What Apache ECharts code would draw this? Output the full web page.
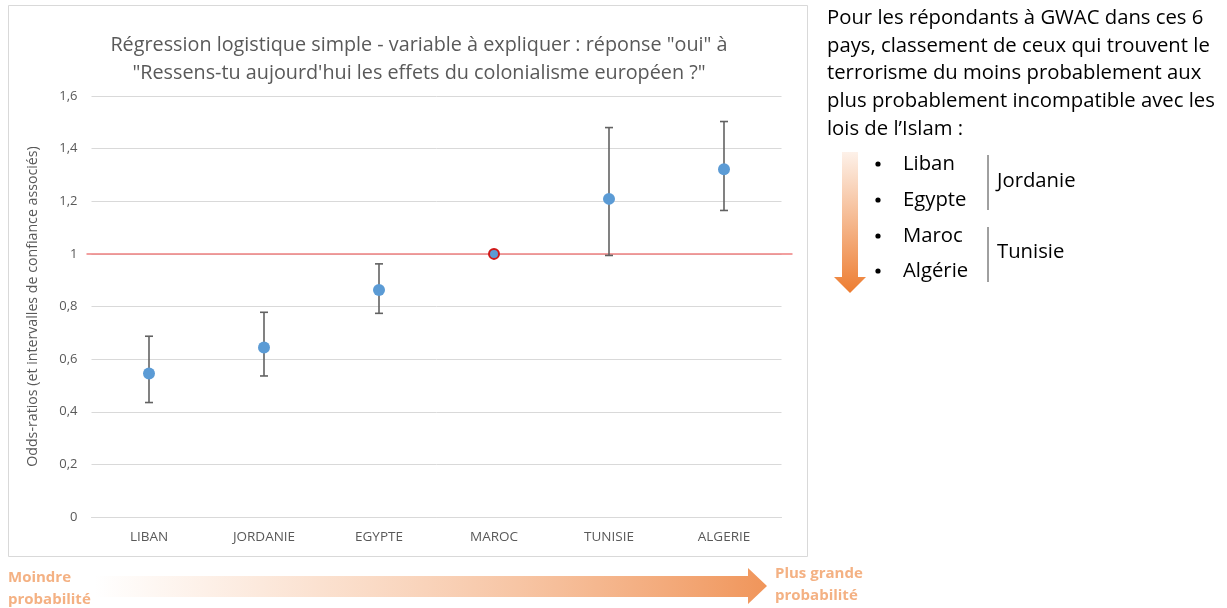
<!DOCTYPE html>
<html>
<head>
<meta charset="utf-8">
<script src="https://cdn.jsdelivr.net/npm/echarts@6/dist/echarts.min.js"></script>
<style>
html,body{margin:0;padding:0;background:#fff;}
#c{width:1227px;height:608px;}
</style>
</head>
<body>
<div id="c"></div>
<script>
var categories = ['LIBAN', 'JORDANIE', 'EGYPTE', 'MAROC', 'TUNISIE', 'ALGERIE'];
var oddsRatios = [0.545, 0.644, 0.863, 1.0, 1.209, 1.322];
var ciLow = [0.435, 0.536, 0.774, 1.0, 0.994, 1.165];
var ciHigh = [0.687, 0.778, 0.962, 1.0, 1.480, 1.503];
var referenceValue = 1;
var referenceCategory = 'MAROC';
var yTickValues = [0, 0.2, 0.4, 0.6, 0.8, 1, 1.2, 1.4, 1.6];

var titleText = 'Régression logistique simple - variable à expliquer : réponse "oui" à\n"Ressens-tu aujourd\'hui les effets du colonialisme européen ?"';
var yAxisName = 'Odds-ratios (et intervalles de confiance associés)';
var sideText = ['Pour les répondants à GWAC dans ces 6', 'pays, classement de ceux qui trouvent le', 'terrorisme du moins probablement aux', 'plus probablement incompatible avec les', 'lois de l\u2019Islam :'];
var rankList = ['Liban', 'Egypte', 'Maroc', 'Algérie'];
var groupLabels = ['Jordanie', 'Tunisie'];
var lowLabel = 'Moindre\nprobabilité';
var highLabel = 'Plus grande\nprobabilité';

var FONT = '"Open Sans", "Noto Sans", sans-serif';
var GRAY = '#595959';
var SIDE_FONT = '20.3px ' + FONT;

var chart = echarts.init(document.getElementById('c'), null, {renderer: 'canvas'});

var pointData = categories.map(function (c, i) {
  var item = {value: [i, oddsRatios[i]]};
  if (c === referenceCategory) {
    item.symbolSize = 10;
    item.itemStyle = {color: '#5B9BD5', borderColor: '#D01818', borderWidth: 2};
  }
  return item;
});
var errData = categories.map(function (c, i) { return [i, ciLow[i], ciHigh[i]]; });

var graphics = [];
graphics.push({type: 'rect', shape: {x: 8.5, y: 5.5, width: 799, height: 551}, style: {fill: 'none', stroke: '#d9d9d9', lineWidth: 1}, z: -10, silent: true});
sideText.forEach(function (t, i) {
  graphics.push({type: 'text', x: 827, y: 18 + i * 27.8, style: {text: t, font: SIDE_FONT, fill: '#000', verticalAlign: 'middle'}});
});
var listY = [164, 200, 236, 271];
rankList.forEach(function (t, i) {
  graphics.push({type: 'circle', shape: {cx: 878, cy: listY[i], r: 2.6}, style: {fill: '#000'}});
  graphics.push({type: 'text', x: 903, y: listY[i], style: {text: t, font: SIDE_FONT, fill: '#000', verticalAlign: 'middle'}});
});
graphics.push({type: 'line', shape: {x1: 988, y1: 155, x2: 988, y2: 210}, style: {stroke: '#404040', lineWidth: 1}});
graphics.push({type: 'line', shape: {x1: 988, y1: 227, x2: 988, y2: 282}, style: {stroke: '#404040', lineWidth: 1}});
graphics.push({type: 'text', x: 997, y: 181, style: {text: groupLabels[0], font: SIDE_FONT, fill: '#000', verticalAlign: 'middle'}});
graphics.push({type: 'text', x: 997, y: 252, style: {text: groupLabels[1], font: SIDE_FONT, fill: '#000', verticalAlign: 'middle'}});
graphics.push({type: 'polygon', shape: {points: [[842, 152], [858, 152], [858, 277], [866, 277], [850, 293], [834, 277], [842, 277]]},
  style: {fill: new echarts.graphic.LinearGradient(0, 0, 0, 1, [{offset: 0, color: '#FDF1E9'}, {offset: 1, color: '#ED7D31'}])}});
graphics.push({type: 'polygon', shape: {points: [[95, 576], [748, 576], [748, 568], [767, 586], [748, 604], [748, 597], [95, 597]]},
  style: {fill: new echarts.graphic.LinearGradient(0, 0, 1, 0, [{offset: 0, color: 'rgba(248,203,173,0)'}, {offset: 0.35, color: 'rgba(248,203,173,0.6)'}, {offset: 1, color: '#F0955A'}])}});
graphics.push({type: 'text', x: 8, y: 589, style: {text: lowLabel, font: 'bold 15px ' + FONT, fill: '#F4B183', verticalAlign: 'middle', lineHeight: 22}});
graphics.push({type: 'text', x: 775, y: 585, style: {text: highLabel, font: 'bold 15px ' + FONT, fill: '#F4B183', verticalAlign: 'middle', lineHeight: 22}});

var option = {
  backgroundColor: '#fff',
  animation: false,
  title: {
    text: titleText, left: 414, top: 26, textAlign: 'center',
    textStyle: {fontFamily: FONT, fontSize: 19.8, fontWeight: 'normal', color: GRAY, lineHeight: 28}
  },
  grid: {left: 91.5, right: 445.5, top: 96, bottom: 91, containLabel: false},
  xAxis: {
    type: 'category', data: categories, boundaryGap: true,
    axisLine: {show: true, lineStyle: {color: '#d9d9d9', width: 1}},
    axisTick: {show: false},
    axisLabel: {color: GRAY, fontFamily: FONT, fontSize: 13.5, margin: 13}
  },
  yAxis: {
    type: 'value', min: 0, max: 1.6, interval: 0.2,
    name: yAxisName, nameLocation: 'middle', nameGap: 52, nameRotate: 90,
    nameTextStyle: {color: GRAY, fontFamily: FONT, fontSize: 14.2},
    axisLine: {show: false}, axisTick: {show: false},
    splitLine: {lineStyle: {color: '#d9d9d9', width: 1}},
    axisLabel: {color: GRAY, fontFamily: FONT, fontSize: 13, margin: 14,
      formatter: function (v) {
        var r = Math.round(v * 10) / 10;
        return yTickValues.indexOf(r) >= 0 ? String(r).replace('.', ',') : '';
      }}
  },
  graphic: graphics,
  series: [
    {
      type: 'custom', z: 2, silent: true,
      data: [[0, referenceValue]],
      renderItem: function (params, api) {
        var cs = params.coordSys;
        var y = api.coord([0, api.value(1)])[1];
        return {type: 'line', shape: {x1: cs.x - 5, y1: y, x2: cs.x + cs.width + 11, y2: y},
          style: {stroke: '#EE7F7F', lineWidth: 1.5}};
      }
    },
    {
      type: 'custom', z: 3, silent: true,
      data: errData,
      renderItem: function (params, api) {
        var lo = api.value(1), hi = api.value(2);
        if (hi - lo < 1e-9) return null;
        var p1 = api.coord([api.value(0), lo]);
        var p2 = api.coord([api.value(0), hi]);
        var w = 4;
        var st = {stroke: '#626262', lineWidth: 1.6};
        return {type: 'group', children: [
          {type: 'line', shape: {x1: p1[0], y1: p1[1], x2: p2[0], y2: p2[1]}, style: st},
          {type: 'line', shape: {x1: p1[0] - w, y1: p1[1], x2: p1[0] + w, y2: p1[1]}, style: st},
          {type: 'line', shape: {x1: p2[0] - w, y1: p2[1], x2: p2[0] + w, y2: p2[1]}, style: st}
        ]};
      }
    },
    {
      type: 'scatter', z: 4, symbol: 'circle', symbolSize: 12,
      itemStyle: {color: '#5B9BD5', opacity: 1},
      data: pointData
    }
  ]
};
chart.setOption(option);
</script>
</body>
</html>
